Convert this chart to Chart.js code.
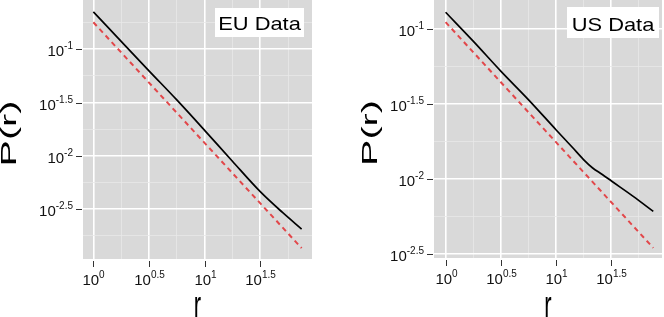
<!DOCTYPE html>
<html>
<head>
<meta charset="utf-8">
<script src="https://cdn.jsdelivr.net/npm/chart.js@4.4.1/dist/chart.umd.min.js"></script>
<style>
  html, body { margin: 0; padding: 0; background: #fff; }
  #wrap { position: relative; width: 664px; height: 317px; overflow: hidden; }
  .panel { position: absolute; top: 0; width: 332px; height: 317px; }
</style>
</head>
<body>
<div id="wrap">
  <div class="panel" style="left:0"><canvas id="euChart" width="332" height="317"></canvas></div>
  <div class="panel" style="left:332px"><canvas id="usChart" width="332" height="317"></canvas></div>
</div>
<script>
// EU: r und P(r)
const euR = [1, 1.778, 3.162, 5.623, 10, 17.78, 31.62, 50.12, 74.47];
const euP = [0.2239, 0.1186, 0.0628, 0.0335, 0.01738, 0.00891, 0.00462, 0.00295, 0.00206];
const euFitR = [1, 74.47];
const euFitP = [0.179, 0.001365];

// US
const usR = [1, 1.778, 3.162, 5.623, 10, 14.13, 17.78, 21.38, 26.3, 32.06, 50.12, 76.2];
const usP = [0.1297, 0.0832, 0.0525, 0.0339, 0.02133, 0.01622, 0.01349, 0.01189, 0.01072, 0.00966, 0.00766, 0.00608];
const usFitR = [1, 76.2];
const usFitP = [0.1114, 0.003467];

// Tick-Exponenten (10^e)
const xTickExp = [0, 0.5, 1, 1.5];
const xMinorExp = [0.25, 0.75, 1.25, 1.75];
const euYTickExp = [-1, -1.5, -2, -2.5];
const euYMinorExp = [-0.75, -1.25, -1.75, -2.25, -2.75];
const usYTickExp = [-1, -1.5, -2, -2.5];
const usYMinorExp = [-1.25, -1.75, -2.25];

const FONT = '"Liberation Sans", Arial, sans-serif';

function toPoints(xs, ys) {
  return xs.map((x, i) => ({ x: x, y: ys[i] }));
}

function tickList(major, minor) {
  return major.map(e => ({ value: Math.pow(10, e) }))
    .concat(minor.map(e => ({ value: Math.pow(10, e), minor: true })));
}

// "10" mit hochgestelltem Exponent
function powLabel(ctx, e, x, y, align) {
  const base = '10', sup = String(e);
  ctx.font = '15px ' + FONT;
  const wb = ctx.measureText(base).width;
  ctx.font = '10px ' + FONT;
  const ws = ctx.measureText(sup).width;
  const x0 = align === 'right' ? x - wb - ws : x - (wb + ws) / 2;
  ctx.textAlign = 'left';
  ctx.textBaseline = 'alphabetic';
  ctx.font = '15px ' + FONT;
  ctx.fillText(base, x0, y);
  ctx.font = '10px ' + FONT;
  ctx.fillText(sup, x0 + wb, y - 7);
}

const ggPlugin = {
  id: 'gg',
  beforeDraw(chart) {
    const a = chart.chartArea, ctx = chart.ctx;
    ctx.save();
    ctx.fillStyle = '#d9d9d9';
    ctx.fillRect(a.left, a.top, a.right - a.left, a.bottom - a.top);
    ctx.restore();
  },
  afterDraw(chart, args, opts) {
    const ctx = chart.ctx, a = chart.chartArea;
    const xs = chart.scales.x, ys = chart.scales.y;
    ctx.save();
    ctx.strokeStyle = '#333';
    ctx.lineWidth = 1;
    ctx.fillStyle = '#111';

    opts.xTicks.forEach(e => {
      const px = Math.round(xs.getPixelForValue(Math.pow(10, e))) + 0.5;
      ctx.beginPath();
      ctx.moveTo(px, a.bottom + 2);
      ctx.lineTo(px, a.bottom + 8);
      ctx.stroke();
      powLabel(ctx, e, px, a.bottom + 26, 'center');
    });

    opts.yTicks.forEach(e => {
      const py = Math.round(ys.getPixelForValue(Math.pow(10, e))) + 0.5;
      ctx.beginPath();
      ctx.moveTo(a.left - 7, py);
      ctx.lineTo(a.left - 1, py);
      ctx.stroke();
      powLabel(ctx, e, a.left - 10, py + 6.5, 'right');
    });

    // Achsentitel
    ctx.fillStyle = '#000';
    ctx.save();
    ctx.translate(opts.yTitleX, (a.top + a.bottom) / 2 + 4);
    ctx.rotate(-Math.PI / 2);
    ctx.scale(1.8, 1);
    ctx.font = '22px ' + FONT;
    ctx.textAlign = 'center';
    ctx.textBaseline = 'alphabetic';
    ctx.fillText('P(r)', 0, 0);
    ctx.restore();

    ctx.save();
    ctx.translate((a.left + a.right) / 2, 318);
    ctx.scale(1, 1.8);
    ctx.font = '22px ' + FONT;
    ctx.textAlign = 'center';
    ctx.fillText('r', 0, 0);
    ctx.restore();

    // Beschriftungskasten
    const b = opts.box;
    ctx.fillStyle = '#fff';
    ctx.fillRect(b.x, b.y, b.w, b.h);
    ctx.fillStyle = '#000';
    ctx.save();
    ctx.translate(b.x + b.w / 2, b.base);
    ctx.scale(1.15, 1);
    ctx.font = '19px ' + FONT;
    ctx.textAlign = 'center';
    ctx.fillText(opts.label, 0, 0);
    ctx.restore();

    ctx.restore();
  }
};

function makeChart(id, cfg) {
  const gridOpts = {
    color: c => (c.tick && c.tick.minor) ? '#e9e9e9' : '#ffffff',
    lineWidth: c => (c.tick && c.tick.minor) ? 0.8 : 1.6,
    drawTicks: false
  };
  return new Chart(document.getElementById(id), {
    type: 'line',
    data: {
      datasets: [{
        data: toPoints(cfg.r, cfg.p),
        borderColor: '#000',
        borderWidth: 1.7,
        pointRadius: 0,
        cubicInterpolationMode: 'monotone'
      }, {
        data: toPoints(cfg.fitR, cfg.fitP),
        borderColor: '#e2474a',
        borderWidth: 2,
        borderDash: [5, 4],
        pointRadius: 0
      }]
    },
    options: {
      responsive: false,
      animation: false,
      layout: { padding: { top: 0, left: 0, right: cfg.padRight, bottom: 0 } },
      plugins: {
        legend: { display: false },
        tooltip: { enabled: false },
        gg: cfg.gg
      },
      scales: {
        x: {
          type: 'logarithmic',
          min: cfg.xMin, max: cfg.xMax,
          grid: gridOpts,
          border: { display: false },
          ticks: { display: false },
          afterBuildTicks: s => { s.ticks = tickList(xTickExp, xMinorExp); },
          afterFit: s => { s.height = cfg.xAxisH; }
        },
        y: {
          type: 'logarithmic',
          min: cfg.yMin, max: cfg.yMax,
          grid: gridOpts,
          border: { display: false },
          ticks: { display: false },
          afterBuildTicks: s => { s.ticks = tickList(cfg.yTicks, cfg.yMinor); },
          afterFit: s => { s.width = cfg.yAxisW; }
        }
      }
    },
    plugins: [ggPlugin]
  });
}

makeChart('euChart', {
  r: euR, p: euP, fitR: euFitR, fitP: euFitP,
  xMin: 0.807, xMax: 92.3, yMin: 0.00108, yMax: 0.2897,
  yTicks: euYTickExp, yMinor: euYMinorExp,
  yAxisW: 83, xAxisH: 58, padRight: 20,
  gg: {
    xTicks: xTickExp, yTicks: euYTickExp, yTitleX: 16,
    label: 'EU Data',
    box: { x: 215, y: 8, w: 89, h: 29, base: 30 }
  }
});

makeChart('usChart', {
  r: usR, p: usP, fitR: usFitR, fitP: usFitP,
  xMin: 0.785, xMax: 91.4, yMin: 0.00297, yMax: 0.1566,
  yTicks: usYTickExp, yMinor: usYMinorExp,
  yAxisW: 102, xAxisH: 59, padRight: 2,
  gg: {
    xTicks: xTickExp, yTicks: usYTickExp, yTitleX: 45,
    label: 'US Data',
    box: { x: 235, y: 7, w: 92, h: 31, base: 31 }
  }
});
</script>
</body>
</html>
